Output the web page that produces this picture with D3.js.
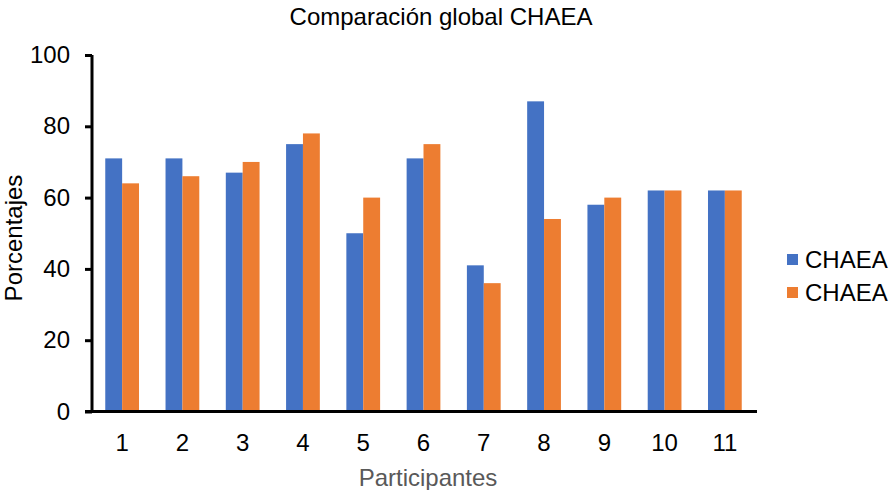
<!DOCTYPE html>
<html>
<head>
<meta charset="utf-8">
<script src="https://cdn.jsdelivr.net/npm/d3@7"></script>
<style>
  body { margin: 0; background: #fff; }
  svg { display: block; font-family: "Liberation Sans", Arial, sans-serif; }
</style>
</head>
<body>
<svg id="chart" width="890" height="490"></svg>
<script>
const categories = ["1","2","3","4","5","6","7","8","9","10","11"];
const seriesNames = ["CHAEA", "CHAEA"];
const series1 = [71, 71, 67, 75, 50, 71, 41, 87, 58, 62, 62];
const series2 = [64, 66, 70, 78, 60, 75, 36, 54, 60, 62, 62];
const yTicks = [0, 20, 40, 60, 80, 100];
const colors = ["#4472C4", "#ED7D31"];

const svg = d3.select("#chart");
const mLeft = 92, mRight = 755, mTop = 55, mBottom = 411.5;
const FS = 24;

const x = d3.scaleBand().domain(categories).range([mLeft, mRight]).paddingInner(0.44).paddingOuter(0.22);
const x1 = d3.scaleBand().domain([0, 1]).range([0, x.bandwidth()]);
const y = d3.scaleLinear().domain([0, 100]).range([mBottom, mTop]);

const data = categories.map((c, i) => ({ c, v: [series1[i], series2[i]] }));

const g = svg.append("g");
g.selectAll("g.grp").data(data).join("g")
  .attr("transform", d => `translate(${x(d.c)},0)`)
  .selectAll("rect").data(d => d.v.map((v, k) => ({ v, k })))
  .join("rect")
  .attr("x", d => x1(d.k))
  .attr("width", x1.bandwidth())
  .attr("y", d => y(d.v))
  .attr("height", d => y(0) - y(d.v))
  .attr("fill", d => colors[d.k]);

// Y axis
const yAxis = d3.axisLeft(y).tickValues(yTicks).tickSize(7).tickPadding(15);
const ya = svg.append("g").attr("transform", `translate(${mLeft},0)`).call(yAxis);
ya.select(".domain").attr("stroke", "#000").attr("stroke-width", 3).attr("d", `M0,${mTop}V${mBottom}`);
ya.selectAll(".tick line").attr("stroke", "#000").attr("stroke-width", 3);
ya.selectAll(".tick text").attr("font-size", FS).attr("fill", "#000")
  .attr("font-family", "Liberation Sans, Arial, sans-serif");

// X axis
const xAxis = d3.axisBottom(x).tickSize(0).tickPadding(22);
const xa = svg.append("g").attr("transform", `translate(0,${mBottom})`).call(xAxis);
xa.select(".domain").attr("stroke", "#000").attr("stroke-width", 3).attr("d", `M${mLeft - 7},0H${mRight + 2}`);
xa.selectAll(".tick text").attr("font-size", FS).attr("fill", "#000")
  .attr("font-family", "Liberation Sans, Arial, sans-serif");

// Title
svg.append("text").attr("x", 441).attr("y", 25).attr("text-anchor", "middle")
  .attr("font-size", FS).attr("fill", "#000").text("Comparación global CHAEA");

// Axis titles
svg.append("text").attr("transform", "translate(22,238) rotate(-90)").attr("text-anchor", "middle")
  .attr("font-size", FS).attr("fill", "#000").text("Porcentajes");
svg.append("text").attr("x", 428).attr("y", 486).attr("text-anchor", "middle")
  .attr("font-size", FS).attr("fill", "#595959").text("Participantes");

// Legend
const leg = svg.append("g");
seriesNames.forEach((n, k) => {
  const yy = 259 + k * 33;
  leg.append("rect").attr("x", 787).attr("y", yy - 5).attr("width", 11).attr("height", 11).attr("fill", colors[k]);
  leg.append("text").attr("x", 805).attr("y", yy + 9).attr("font-size", FS).attr("fill", "#000").text(n);
});
</script>
</body>
</html>
